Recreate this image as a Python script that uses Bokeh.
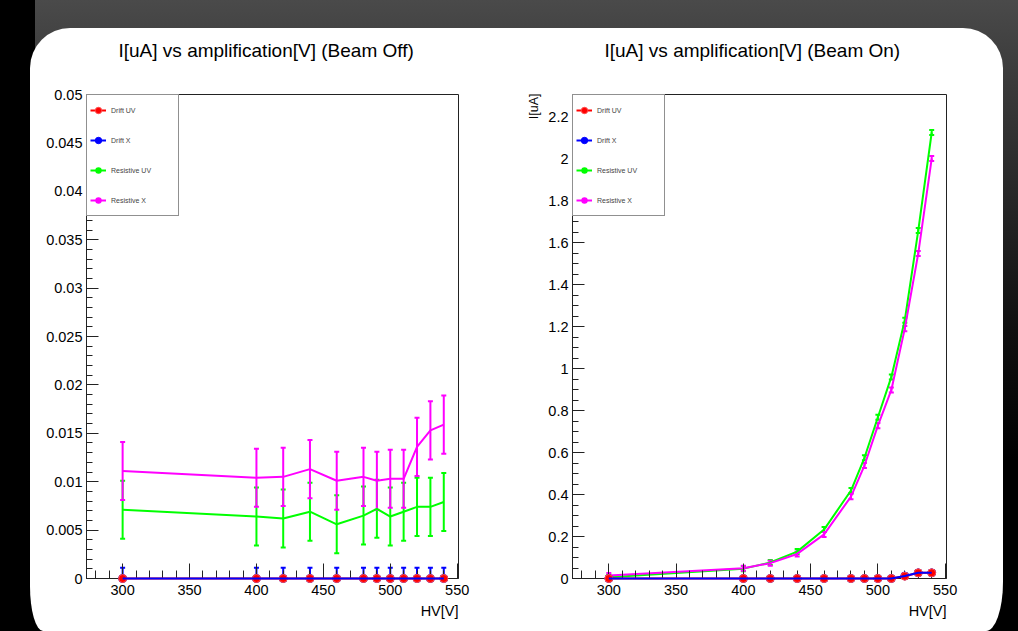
import numpy as np
from bokeh.plotting import figure
from bokeh.layouts import row
from bokeh.models import (ColumnDataSource, Whisker, TeeHead, Legend, LegendItem, Title,
                          Range1d, SingleIntervalTicker, CustomJSTickFormatter)
from bokeh.embed import file_html
from bokeh.resources import INLINE

# ---------------- data ----------------
HV = [300, 400, 420, 440, 460, 480, 490, 500, 510, 520, 530, 540]

# Beam Off  (I [uA])
off_drift_uv = [0, 0, 0, 0, 0, 0, 0, 0, 0, 0, 0, 0]
off_drift_x = [0, 0, 0, 0, 0, 0, 0, 0, 0, 0, 0, 0]
off_res_uv = [0.0071, 0.0064, 0.0062, 0.0069, 0.0056, 0.0065, 0.0072, 0.0064, 0.0069, 0.0074, 0.0074, 0.0079]
off_res_x = [0.0111, 0.0104, 0.0105, 0.0113, 0.0101, 0.0105, 0.0101, 0.0103, 0.0103, 0.0136, 0.0153, 0.0159]
off_err_drift = 0.0011
off_err_res = 0.003

# Beam On  (I [uA])
on_drift_uv = [0, 0, 0, 0, 0, 0, 0, 0, 0, 0.011, 0.027, 0.027]
on_drift_x = [0, 0, 0, 0, 0, 0, 0, 0, 0, 0.012, 0.027, 0.027]
on_res_uv = [0.006, 0.047, 0.076, 0.128, 0.233, 0.419, 0.575, 0.768, 0.96, 1.23, 1.657, 2.124]
on_res_x = [0.014, 0.049, 0.073, 0.117, 0.21, 0.39, 0.538, 0.728, 0.898, 1.19, 1.548, 2.0]
on_err_drift = 0.008
on_err_res = 0.012

TITLES = ["I[uA] vs amplification[V] (Beam Off)", "I[uA] vs amplification[V] (Beam On)"]
X_LABEL = "HV[V]"
Y_LABEL = "I[uA]"
SERIES_NAMES = ["Drift UV", "Drift X", "Resistive UV", "Resistive X"]
COLORS = ["#ff0000", "#0000ff", "#00ff00", "#ff00ff"]
X_RANGE = (273, 551)
Y_RANGES = [(0, 0.05), (0, 2.305)]

FONT = "Liberation Sans"
H = 631
AX = "#222222"


def make_panel(width, bl, br, yr, y_int, y_minor, y_digits, ys, err_drift, err_res,
               title, ylabel):
    p = figure(width=width, height=H, x_range=Range1d(*X_RANGE), y_range=Range1d(*yr),
               output_backend="svg", toolbar_location=None, title=None,
               min_border_left=bl, min_border_right=br, min_border_top=94, min_border_bottom=53,
               background_fill_color="white", border_fill_color=None,
               outline_line_color=AX, outline_line_width=1,
               margin=(-28, 0, 0, 0))
    p.xgrid.visible = False
    p.ygrid.visible = False

    xa = p.xaxis[0]
    xa.ticker = SingleIntervalTicker(interval=50, num_minor_ticks=5)
    xa.major_tick_in = 15
    xa.minor_tick_in = 8
    xa.major_label_standoff = 6
    ya = p.yaxis[0]
    ya.ticker = SingleIntervalTicker(interval=y_int, num_minor_ticks=y_minor)
    ya.formatter = CustomJSTickFormatter(code="return String(parseFloat(tick.toFixed(%d)));" % y_digits)
    ya.major_tick_in = 12
    ya.minor_tick_in = 6
    ya.major_label_standoff = 4
    for a in (xa, ya):
        a.major_tick_out = 0
        a.minor_tick_out = 0
        a.axis_line_color = AX
        a.major_tick_line_color = AX
        a.minor_tick_line_color = AX
        a.major_label_text_font = FONT
        a.major_label_text_font_size = "14.5px"
        a.major_label_text_color = "black"

    src = {}
    for name, vals, err in zip(SERIES_NAMES, ys, [err_drift, err_drift, err_res, err_res]):
        src[name] = ColumnDataSource(dict(x=HV, y=vals,
                                          lo=[v - err for v in vals],
                                          hi=[v + err for v in vals]))

    for name, c in zip(SERIES_NAMES[2:], COLORS[2:]):
        p.add_layout(Whisker(source=src[name], base="x", upper="hi", lower="lo",
                             line_color=c, line_width=2,
                             upper_head=TeeHead(size=5, line_color=c, line_width=2),
                             lower_head=TeeHead(size=5, line_color=c, line_width=2)))
    items = {}
    for name, c in zip(SERIES_NAMES[2:], COLORS[2:]):
        ln = p.line("x", "y", source=src[name], line_color=c, line_width=2)
        mk = p.scatter("x", "y", source=src[name], marker="circle", size=0,
                       fill_color=c, line_color=None)
        items[name] = [ln, mk]
    ln_red = p.line("x", "y", source=src["Drift UV"], line_color=COLORS[0], line_width=2, level="overlay")
    mk_blue = p.scatter("x", "y", source=src["Drift X"], marker="circle", size=8,
                        fill_color=COLORS[1], line_color=COLORS[1], level="overlay")
    mk_red = p.scatter("x", "y", source=src["Drift UV"], marker="circle", size=8,
                       fill_color=COLORS[0], line_color="#ff5050", level="overlay")
    ln_blue = p.line("x", "y", source=src["Drift X"], line_color=COLORS[1], line_width=2, level="overlay")
    p.add_layout(Whisker(source=src["Drift X"], base="x", upper="hi", lower="lo",
                         line_color=COLORS[1], line_width=2,
                         upper_head=TeeHead(size=5, line_color=COLORS[1], line_width=2),
                         lower_head=TeeHead(size=5, line_color=COLORS[1], line_width=2)))
    items["Drift UV"] = [ln_red, mk_red]
    items["Drift X"] = [ln_blue, mk_blue]

    legend = Legend(items=[LegendItem(label=n, renderers=items[n]) for n in SERIES_NAMES],
                    location="top_left", margin=0, padding=3, spacing=6,
                    glyph_height=24, glyph_width=16, label_height=24, label_width=64,
                    label_standoff=5, label_text_font=FONT, label_text_font_size="7px",
                    border_line_color=AX, border_line_width=1,
                    background_fill_color="white", background_fill_alpha=1.0)
    p.add_layout(legend)

    p.add_layout(Title(text=title, align="left", offset=32, standoff=68,
                       text_font=FONT, text_font_size="19px", text_font_style="normal",
                       text_color="black"), "above")
    p.add_layout(Title(text=X_LABEL, align="right", standoff=6,
                       text_font=FONT, text_font_size="14.5px", text_font_style="normal",
                       text_color="black"), "below")
    if ylabel:
        p.add_layout(Title(text=ylabel, align="right", offset=-1, standoff=10,
                           text_font=FONT, text_font_size="12.5px", text_font_style="normal",
                           text_color="black"), "left")
    return p


# panels sit inside the white card (card starts at page x=30, y=28)
p1 = make_panel(485, 56, 57, Y_RANGES[0], 0.005, 5, 4,
                [off_drift_uv, off_drift_x, off_res_uv, off_res_x], off_err_drift, off_err_res,
                TITLES[0], None)
p2 = make_panel(488, 57, 57, Y_RANGES[1], 0.2, 4, 2,
                [on_drift_uv, on_drift_x, on_res_uv, on_res_x], on_err_drift, on_err_res,
                TITLES[1], Y_LABEL)

card = row(p1, p2, margin=(28, 0, 0, 30),
           styles={"background-color": "white",
                   "border-radius": "40px 40px 17px 13px / 40px 40px 49px 45px",
                   "overflow": "hidden"})
page = row(card, width=1018, height=631,
           styles={"background": "linear-gradient(to right, #000000 0px, #000000 35px, rgba(0,0,0,0) 35px), "
                                 "linear-gradient(to bottom, #4a4a4a 0px, #3c3c3c 70px, #262626 200px, "
                                 "#101010 330px, #000000 460px)"})
open("out.html", "w").write(file_html(page, INLINE))
